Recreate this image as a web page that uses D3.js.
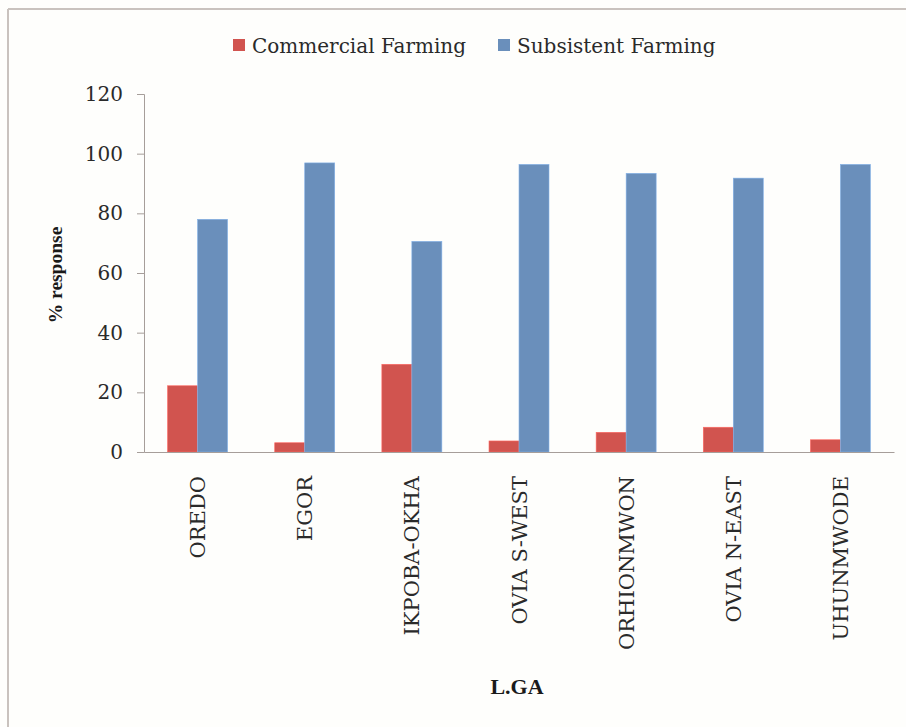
<!DOCTYPE html>
<html>
<head>
<meta charset="utf-8">
<script src="https://cdn.jsdelivr.net/npm/d3@7"></script>
<style>
  html, body { margin: 0; padding: 0; background: #fefefc; }
  svg { display: block; }
</style>
</head>
<body>
<svg id="chart" width="906" height="727"></svg>
<script>
// Local government areas and share of responses (%) for each farming type
const categories = ["OREDO", "EGOR", "IKPOBA-OKHA", "OVIA S-WEST", "ORHIONMWON", "OVIA N-EAST", "UHUNMWODE"];
const seriesNames = ["Commercial Farming", "Subsistent Farming"];
const commercial = [22.2, 3.1, 29.4, 3.7, 6.6, 8.3, 4.1];
const subsistent = [78.0, 96.9, 70.6, 96.4, 93.4, 91.8, 96.4];
const yTicks = [0, 20, 40, 60, 80, 100, 120];
const colors = ["#d1544f", "#6a8fbb"];

const svg = d3.select("#chart");
const W = 906, H = 727;
const plot = { left: 144, right: 894, top: 94, bottom: 452 };

// outer frame (top and left edges visible)
svg.append("rect").attr("x", 0).attr("y", 0).attr("width", W).attr("height", H).attr("fill", "#fefefc");
svg.append("line").attr("x1", 8).attr("x2", W).attr("y1", 9).attr("y2", 9)
  .attr("stroke", "#c9c2be").attr("stroke-width", 2);
svg.append("line").attr("x1", 8).attr("x2", 8).attr("y1", 9).attr("y2", H)
  .attr("stroke", "#c9c2be").attr("stroke-width", 2);

const x = d3.scaleBand().domain(categories).range([plot.left, plot.right])
  .paddingInner(0.44).paddingOuter(0.22);
const xs = d3.scaleBand().domain(seriesNames).range([0, x.bandwidth()]).padding(0);
const y = d3.scaleLinear().domain([0, 120]).range([plot.bottom, plot.top]);

const rows = categories.map((c, i) => ({ cat: c, vals: [commercial[i], subsistent[i]] }));

// bars
const groups = svg.append("g").selectAll("g").data(rows).join("g")
  .attr("transform", d => `translate(${x(d.cat)},0)`);
groups.selectAll("rect").data(d => d.vals.map((v, k) => ({ v, k })))
  .join("rect")
  .attr("x", d => xs(seriesNames[d.k]))
  .attr("width", xs.bandwidth())
  .attr("y", d => y(d.v))
  .attr("height", d => y(0) - y(d.v))
  .attr("fill", d => colors[d.k])
  .attr("stroke", d => d3.color(colors[d.k]).brighter(0.6))
  .attr("stroke-width", 0.6);

const axisColor = "#a69e9a";
const fontSerif = "'DejaVu Serif', serif";

// y axis
const yAxis = svg.append("g").attr("transform", `translate(${plot.left},0)`)
  .call(d3.axisLeft(y).tickValues(yTicks).tickSize(7).tickSizeOuter(7).tickPadding(14));
yAxis.select(".domain").attr("stroke", axisColor);
yAxis.selectAll(".tick line").attr("stroke", axisColor);
yAxis.selectAll(".tick text")
  .attr("font-family", fontSerif).attr("font-size", 20).attr("fill", "#2a2a2a")
  .attr("font-weight", 300);

// x axis
const xAxis = svg.append("g").attr("transform", `translate(0,${plot.bottom})`)
  .call(d3.axisBottom(x).tickSize(0).tickSizeOuter(0).tickPadding(0));
xAxis.select(".domain").attr("stroke", axisColor);
xAxis.selectAll(".tick text")
  .attr("font-family", fontSerif).attr("font-size", 21).attr("fill", "#2a2a2a")
  .attr("text-anchor", "end")
  .attr("transform", "translate(0,24) rotate(-90)")
  .attr("x", 0).attr("y", 0).attr("dy", "0.36em");

// axis titles
svg.append("text")
  .attr("transform", `translate(62,${(plot.top + plot.bottom) / 2 + 2}) rotate(-90)`)
  .attr("text-anchor", "middle")
  .attr("font-family", "'Liberation Serif', serif").attr("font-weight", "bold")
  .attr("font-size", 19.5).attr("fill", "#1a1a1a")
  .text("% response");

svg.append("text")
  .attr("x", (plot.left + plot.right) / 2 - 2).attr("y", 694)
  .attr("text-anchor", "middle")
  .attr("font-family", "'Liberation Serif', serif").attr("font-weight", "bold")
  .attr("font-size", 22).attr("fill", "#1a1a1a")
  .text("L.GA");

// legend
const legendX = [233, 498];
const legend = svg.append("g").selectAll("g").data(seriesNames).join("g")
  .attr("transform", (d, i) => `translate(${legendX[i]},39)`);
legend.append("rect").attr("width", 12).attr("height", 12)
  .attr("fill", (d, i) => colors[i]);
legend.append("text").attr("x", 19).attr("y", 14)
  .attr("font-family", fontSerif).attr("font-size", 20).attr("fill", "#2a2a2a")
  .text(d => d);
</script>
</body>
</html>
